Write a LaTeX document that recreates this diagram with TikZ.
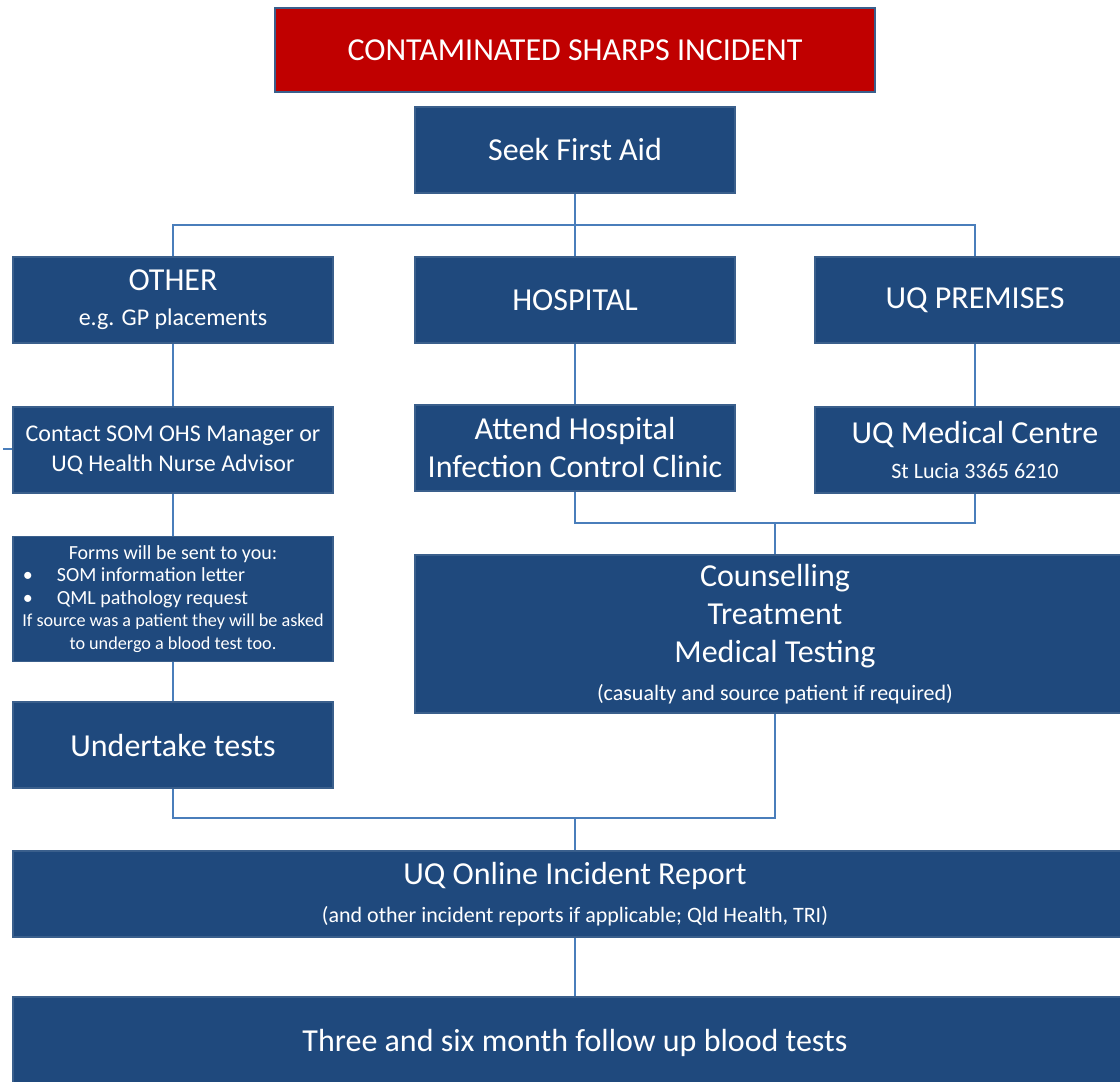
\documentclass[tikz,border=0pt]{standalone}
\usepackage{fontspec}
\setmainfont{Carlito}
\usetikzlibrary{positioning}
\definecolor{navy}{HTML}{1F497D}
\definecolor{edge}{HTML}{3A5F8C}
\definecolor{alarm}{HTML}{C00000}
\definecolor{link}{HTML}{4A7EBB}
\tikzset{
BX/.style={draw=edge, fill=navy, line width=1.5pt, text=white, align=center,
    minimum width=320pt, minimum height=86pt, inner sep=0pt,
    font=\fontsize{32}{38}\selectfont},
WIDE/.style={BX, minimum width=1124pt},
HD/.style={BX, fill=alarm, minimum width=600pt, minimum height=84pt},
LN/.style={draw=link, line width=2pt}
}
\newcommand{\smalltxt}[1]{{\fontsize{24}{29}\selectfont #1}}
\newcommand{\formsline}[1]{\makebox[300pt][l]{\textbullet\hspace{24pt}#1}}

\begin{document}
\begin{tikzpicture}[x=1pt,y=-1pt]
\clip (0,0) rectangle (1120,1082);
\fill[white] (0,0) rectangle (1120,1082);

\node[HD] (head) at (575,50) {CONTAMINATED SHARPS INCIDENT};
\node[BX] (seek) at (575,150) {Seek First Aid};

\node[BX] (other) at (173,300) {OTHER\\[-3pt] \smalltxt{e.g. GP placements}};
\node[BX] (hosp) at (575,300) {HOSPITAL};
\node[BX] (prem) at (975,300) {UQ PREMISES};

\node[BX,font=\fontsize{24}{30}\selectfont] (contact) at (173,450)
    {Contact SOM OHS Manager or\\ UQ Health Nurse Advisor};
\node[BX] (attend) at (575,448) {Attend Hospital\\ Infection Control Clinic};
\node[BX] (medc) at (975,450) {UQ Medical Centre\\[-3pt] {\fontsize{22}{28}\selectfont St Lucia 3365 6210}};

\node[BX,minimum height=125pt,font=\fontsize{20}{22.5}\selectfont] (forms) at (173,599)
    {Forms will be sent to you:\\ \formsline{SOM information letter}\\
     \formsline{QML pathology request}\\
     {\fontsize{18.2}{22.5}\selectfont If source was a patient they will be asked}\\
     {\fontsize{18.2}{22.5}\selectfont to undergo a blood test too.}};
\node[BX] (tests) at (173,745) {Undertake tests};

\node[BX,minimum width=720pt,minimum height=158pt] (couns) at (775,634)
    {Counselling\\ Treatment\\ Medical Testing\\
     {\fontsize{22}{30}\selectfont (casualty and source patient if required)}};

\node[WIDE] (report) at (575,894) {UQ Online Incident Report\\
    {\fontsize{22}{30}\selectfont (and other incident reports if applicable; Qld Health, TRI)}};
\node[WIDE,minimum height=92pt] (follow) at (575,1043) {Three and six month follow up blood tests};

% connectors
\coordinate (fork) at (575,225);
\coordinate (join) at (775,523);
\coordinate (merge) at (575,818);
\coordinate (stub) at (3,449);

\draw[LN] (seek) -- (hosp);
\draw[LN] (other) |- (fork) -| (prem);
\draw[LN] (other) -- (contact);
\draw[LN] (hosp) -- (attend);
\draw[LN] (prem) -- (medc);
\draw[LN] (stub) -- (contact.west |- stub);
\draw[LN] (attend) |- (join) -| (medc);
\draw[LN] (join) -- (couns);
\draw[LN] (contact) -- (forms);
\draw[LN] (forms) -- (tests);
\draw[LN] (tests) |- (merge) -| (couns);
\draw[LN] (merge) -- (report);
\draw[LN] (report) -- (follow);
\end{tikzpicture}
\end{document}
